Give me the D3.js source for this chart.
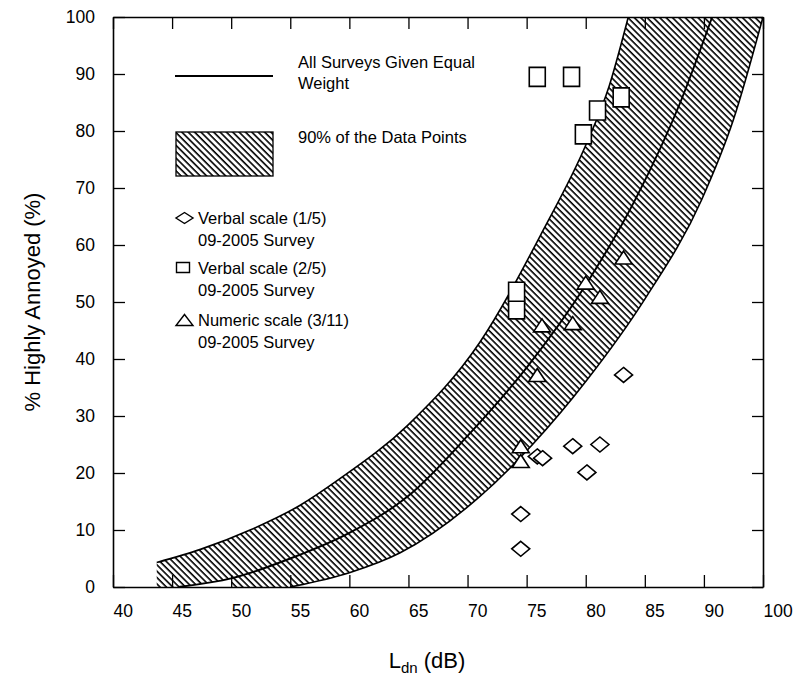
<!DOCTYPE html>
<html>
<head>
<meta charset="utf-8">
<script src="https://cdn.jsdelivr.net/npm/d3@7"></script>
<style>
  body { margin: 0; background: #fff; }
  svg { display: block; font-family: "Liberation Sans", Arial, sans-serif; }
</style>
</head>
<body>
<svg id="graphContainer" width="796" height="680"></svg>
<script>
// tick values and labels (the last tick sits at the right frame and reads "100")
let xTickValues = [40, 45, 50, 55, 60, 65, 70, 75, 80, 85, 90, 95];
let xTickLabels = ["40", "45", "50", "55", "60", "65", "70", "75", "80", "85", "90", "100"];
let yTickValues = [0, 10, 20, 30, 40, 50, 60, 70, 80, 90, 100];

// solid curve: all surveys given equal weight
let middleLdn = [45.5, 50, 55, 60, 65, 70, 75, 80, 84.2, 88, 90.7];
let middlePct = [0, 1.5, 5, 9.5, 16, 26.5, 38.5, 53, 68, 85, 100];

// edges of the 90% band
let upperLdn = [43.7, 47.4, 51.6, 55.8, 59.2, 65, 71, 76.4, 80, 82, 83.6];
let upperPct = [4.3, 6.6, 10, 14.3, 19, 28.5, 42.8, 62.6, 77.5, 88, 100];
let lowerLdn = [55, 60, 64.3, 71, 75.5, 80.1, 85, 89.8, 92.5, 95];
let lowerPct = [0, 2.5, 6, 15.8, 25, 36.3, 50.5, 67.9, 82, 100];

// 09-2005 survey points
let verbal15Ldn = [74.5, 74.5, 75.9, 76.35, 78.9, 80.1, 81.2, 83.2];
let verbal15Pct = [6.7, 12.8, 22.9, 22.6, 24.7, 20.1, 25.0, 37.2];
let verbal25Ldn = [74.15, 74.15, 75.9, 78.8, 79.8, 81.0, 83.0];
let verbal25Pct = [48.7, 51.8, 89.5, 89.5, 79.4, 83.6, 85.9];
let numeric311Ldn = [74.5, 74.5, 75.9, 76.3, 78.9, 80.0, 81.2, 83.2];
let numeric311Pct = [22.1, 24.7, 37.2, 45.9, 46.3, 53.4, 50.9, 57.8];

let legendMarkerLabels = ["Verbal scale (1/5)", "Verbal scale (2/5)", "Numeric scale (3/11)"];
let legendSurvey = "09-2005 Survey";

let margin = {top: 17, right: 33, bottom: 93, left: 113},
    width = 796 - margin.left - margin.right,
    height = 680 - margin.top - margin.bottom;

let root = d3.select("#graphContainer");

let defs = root.append("defs");
defs.append("pattern")
    .attr("id", "hatch")
    .attr("patternUnits", "userSpaceOnUse")
    .attr("width", 4.5)
    .attr("height", 4.5)
    .attr("patternTransform", "rotate(45)")
  .append("rect")
    .attr("width", 4.5)
    .attr("height", 1.6)
    .attr("fill", "#000");
defs.append("clipPath")
    .attr("id", "plotClip")
  .append("rect")
    .attr("width", width)
    .attr("height", height);

let svg = root.append("g")
    .attr("transform", "translate(" + margin.left + "," + margin.top + ")");

let x = d3.scaleLinear().domain([40, 95]).range([0, width]);
let y = d3.scaleLinear().domain([0, 100]).range([height, 0]);

function pts(xs, ys) {
  return xs.map(function(d, i) { return [d, ys[i]]; });
}

let line = d3.line()
    .x(function(d) { return x(d[0]); })
    .y(function(d) { return y(d[1]); })
    .curve(d3.curveMonotoneX);

let upperPts = pts(upperLdn, upperPct);
let middlePts = pts(middleLdn, middlePct);
let lowerPts = pts(lowerLdn, lowerPct);

// band above the solid line
let upperBand = line(upperPts)
    + "L" + line(middlePts.slice().reverse()).slice(1)
    + "L" + x(upperLdn[0]) + "," + y(0) + "Z";
// band below the solid line, starting at 50 dB
let midFrom50 = middlePts.filter(function(d) { return d[0] >= 50; });
let lowerBand = line(midFrom50)
    + "L" + line(lowerPts.slice().reverse()).slice(1)
    + "L" + x(50) + "," + y(0) + "Z";

let plot = svg.append("g").attr("clip-path", "url(#plotClip)");

plot.selectAll("path.band")
  .data([upperBand, lowerBand])
  .enter()
  .append("path")
    .attr("class", "band")
    .attr("d", function(d) { return d; })
    .attr("fill", "url(#hatch)")
    .attr("stroke", "none");

plot.selectAll("path.curve")
  .data([upperPts, middlePts, lowerPts])
  .enter()
  .append("path")
    .attr("class", "curve")
    .attr("d", line)
    .attr("fill", "none")
    .attr("stroke", "#000")
    .attr("stroke-width", function(d, i) { return i == 1 ? 1.9 : 1.6; });

// axes: inward ticks on all four sides
let fontSize = 17.5;
svg.append("g")
    .attr("transform", "translate(0," + height + ")")
    .call(d3.axisBottom(x).tickValues(xTickValues).tickSize(-12).tickSizeOuter(0)
      .tickFormat(function(d, i) { return xTickLabels[i]; }))
    .call(function(g) {
      g.selectAll("text").attr("text-anchor", "start").attr("y", 18)
        .attr("font-size", fontSize).attr("font-family", null).attr("fill", "#000");
    });

svg.append("g")
    .call(d3.axisLeft(y).tickValues(yTickValues).tickSize(-12).tickSizeOuter(0))
    .call(function(g) {
      g.selectAll("text").attr("x", -18)
        .attr("font-size", fontSize).attr("font-family", null).attr("fill", "#000");
    });

svg.append("g")
    .call(d3.axisTop(x).tickValues(xTickValues).tickSize(-12).tickSizeOuter(0).tickFormat(""));

svg.append("g")
    .attr("transform", "translate(" + width + ",0)")
    .call(d3.axisRight(y).tickValues(yTickValues).tickSize(-11).tickSizeOuter(0).tickFormat(""));

svg.selectAll(".domain").attr("stroke", "#000").attr("stroke-width", 1.6);
svg.selectAll(".tick line").attr("stroke", "#000").attr("stroke-width", 1.3);

// markers
function diamond(w, h) {
  return "M0," + (-h / 2) + "L" + (w / 2) + ",0L0," + (h / 2) + "L" + (-w / 2) + ",0Z";
}
function triangle(w, h) {
  return "M0," + (-h / 2) + "L" + (w / 2) + "," + (h / 2) + "L" + (-w / 2) + "," + (h / 2) + "Z";
}
function square(w, h) {
  return "M" + (-w / 2) + "," + (-h / 2) + "h" + w + "v" + h + "h" + (-w) + "Z";
}

let markerSets = [
  {data: pts(verbal15Ldn, verbal15Pct), shape: diamond(18, 15)},
  {data: pts(verbal25Ldn, verbal25Pct), shape: square(16, 19)},
  {data: pts(numeric311Ldn, numeric311Pct), shape: triangle(17, 13)}
];

markerSets.forEach(function(s) {
  svg.append("g").selectAll("path")
    .data(s.data)
    .enter()
    .append("path")
      .attr("transform", function(d) { return "translate(" + x(d[0]) + "," + y(d[1]) + ")"; })
      .attr("d", s.shape)
      .attr("fill", "#fff")
      .attr("stroke", "#000")
      .attr("stroke-width", 1.6);
});

// legend
let legend = root.append("g").attr("font-size", 16.5).attr("fill", "#000");

legend.append("line")
    .attr("x1", 175).attr("x2", 273).attr("y1", 76).attr("y2", 76)
    .attr("stroke", "#000").attr("stroke-width", 1.8);
legend.append("text").attr("x", 298).attr("y", 68).text("All Surveys Given Equal");
legend.append("text").attr("x", 298).attr("y", 89).text("Weight");

legend.append("rect")
    .attr("x", 176).attr("y", 132).attr("width", 97).attr("height", 44)
    .attr("fill", "url(#hatch)").attr("stroke", "#000").attr("stroke-width", 1.3);
legend.append("text").attr("x", 298).attr("y", 143).text("90% of the Data Points");

let legendShapes = [diamond(17, 11), square(13, 10), triangle(17, 11)];
let legendRowY = [218, 267.5, 320];
legendMarkerLabels.forEach(function(label, i) {
  legend.append("path")
      .attr("transform", "translate(" + (i == 1 ? 183 : 184.5) + "," + legendRowY[i] + ")")
      .attr("d", legendShapes[i])
      .attr("fill", "#fff").attr("stroke", "#000").attr("stroke-width", 1.4);
  legend.append("text").attr("x", 198).attr("y", legendRowY[i] + 6).text(label);
  legend.append("text").attr("x", 198).attr("y", legendRowY[i] + 28).text(legendSurvey);
});

// axis titles
root.append("text")
    .attr("transform", "translate(40," + (margin.top + height / 2) + ") rotate(-90)")
    .attr("text-anchor", "middle")
    .attr("font-size", 22)
    .text("% Highly Annoyed (%)");

let xTitle = root.append("text")
    .attr("x", 427).attr("y", 668)
    .attr("text-anchor", "middle")
    .attr("font-size", 22);
xTitle.append("tspan").text("L");
xTitle.append("tspan").attr("font-size", 15).attr("dy", 5).text("dn");
xTitle.append("tspan").attr("dy", -5).text(" (dB)");
</script>
</body>
</html>
